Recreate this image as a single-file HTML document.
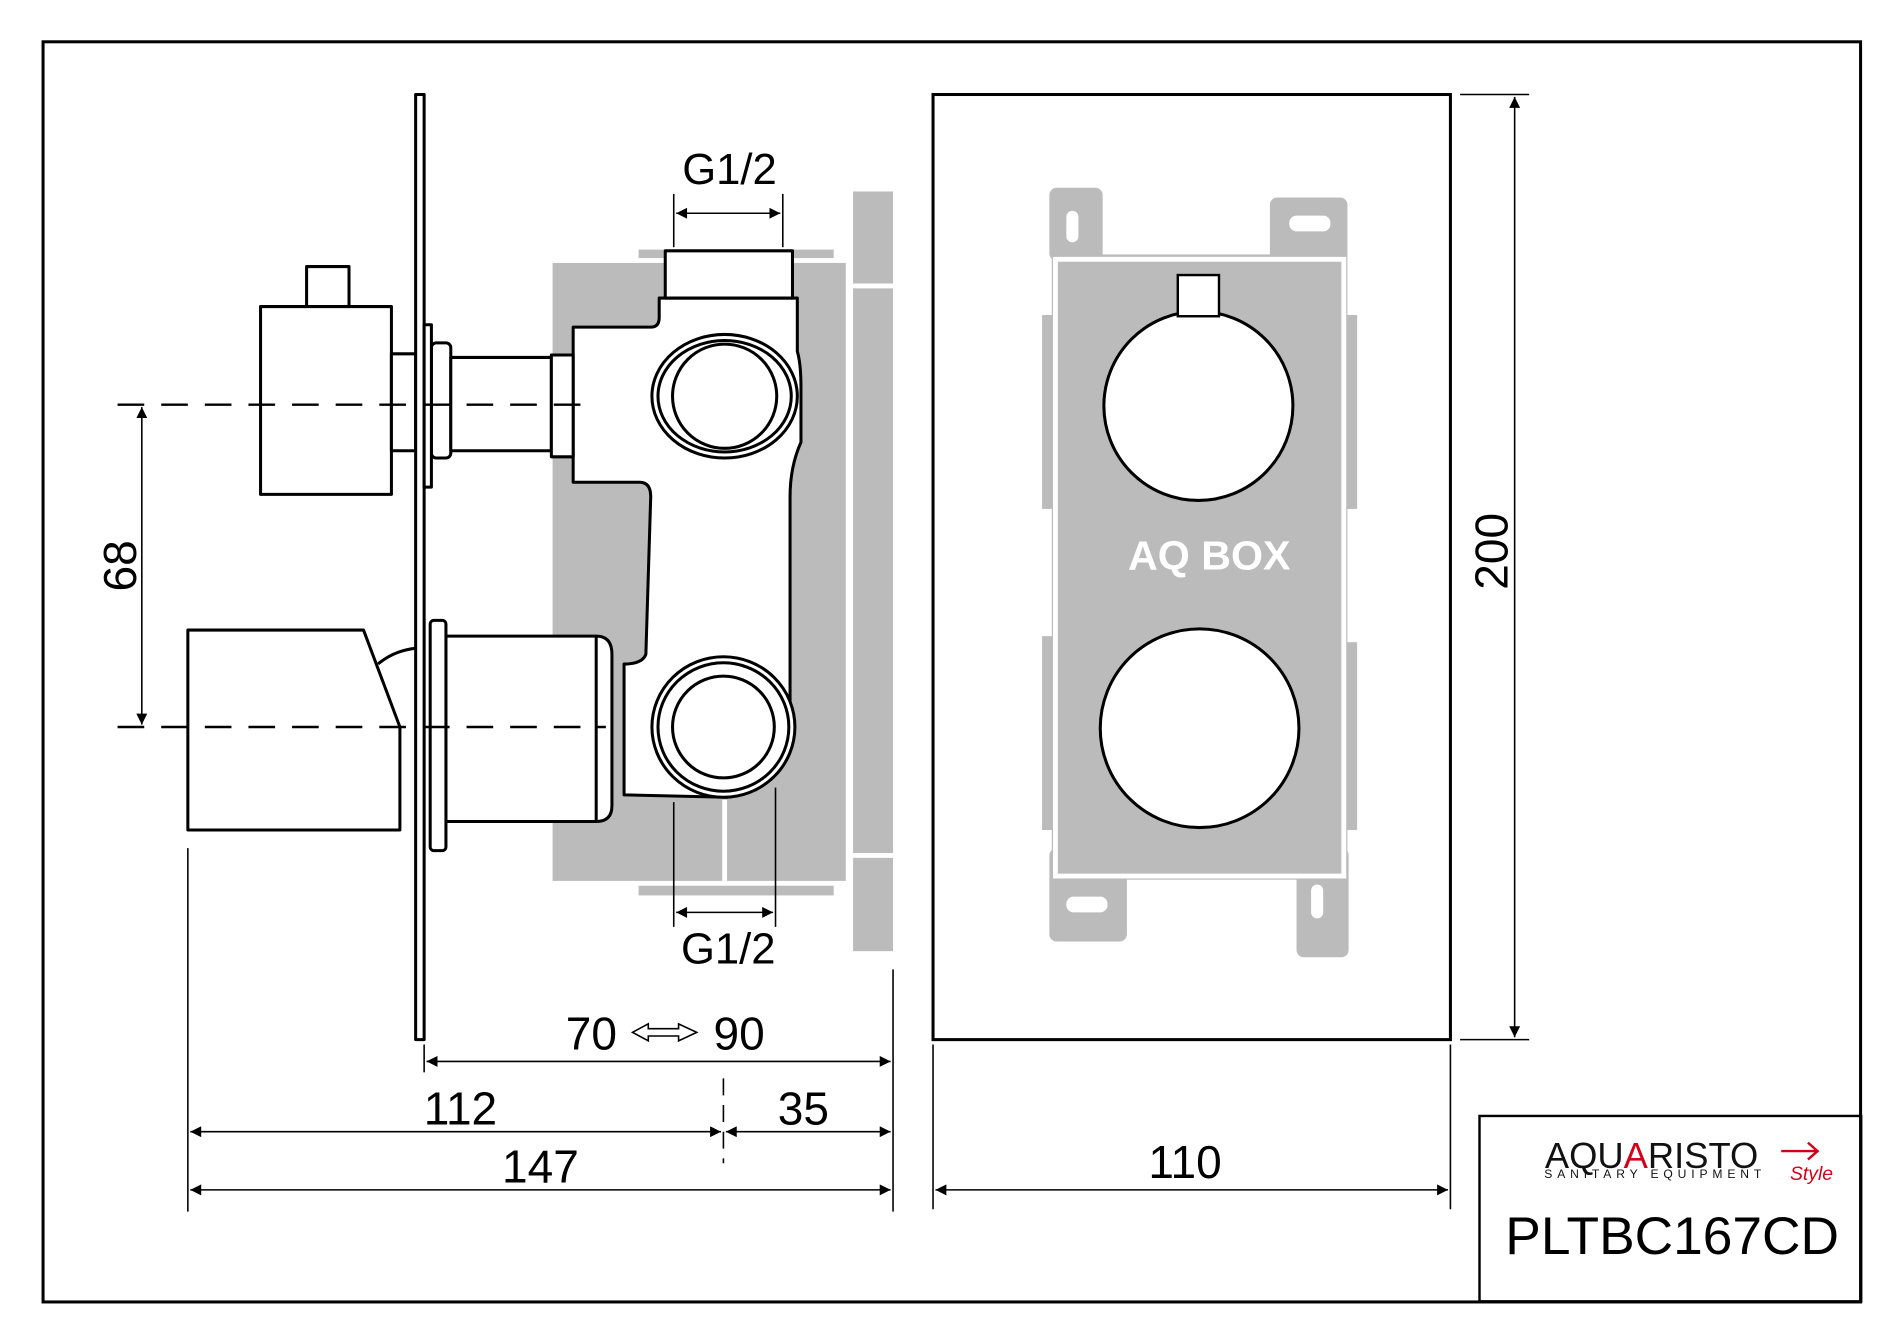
<!DOCTYPE html>
<html><head><meta charset="utf-8"><style>html,body{margin:0;padding:0;background:#fff}svg{display:block}</style></head>
<body>
<svg width="1900" height="1328" viewBox="0 0 1568 1096" xmlns="http://www.w3.org/2000/svg" font-family="Liberation Sans, sans-serif">
<defs>
<marker id="a" viewBox="0 0 10 10" refX="10" refY="5" markerWidth="20" markerHeight="9" markerUnits="userSpaceOnUse" orient="auto-start-reverse"><path d="M0,0 L10,5 L0,10 z" fill="#000"/></marker>
</defs>
<rect x="0" y="0" width="1568" height="1096" fill="#fff"/>
<rect x="35.5" y="34.5" width="1500" height="1040" fill="none" stroke="#000" stroke-width="2.5"/>
<rect x="1221" y="921" width="315" height="153" fill="none" stroke="#000" stroke-width="2"/>
<text x="1363" y="964" font-size="30" text-anchor="middle" fill="#111">AQU<tspan fill="#d0021b">A</tspan>RISTO</text>
<text x="1366" y="972" font-size="10" text-anchor="middle" fill="#111" letter-spacing="4">SANITARY EQUIPMENT</text>
<text x="1495" y="974" font-size="16" font-style="italic" fill="#d0021b" text-anchor="middle">Style</text>
<path d="M1470,950 h30 M1492,943 l8,7 l-8,7" stroke="#d0021b" stroke-width="2" fill="none"/>
<text x="1380" y="1035" font-size="44" text-anchor="middle">PLTBC167CD</text>

<rect x="770" y="78" width="427" height="780" fill="none" stroke="#000" stroke-width="2.5"/>
<g fill="#bbb">
<rect x="866" y="155" width="44" height="60" rx="6"/>
<rect x="1048" y="163" width="64" height="52" rx="6"/>
<rect x="868" y="210" width="244" height="516"/>
<rect x="866" y="700" width="64" height="77" rx="6"/>
<rect x="1070" y="700" width="43" height="90" rx="6"/>
<rect x="860" y="260" width="10" height="160"/><rect x="860" y="525" width="10" height="160"/>
<rect x="1110" y="260" width="10" height="160"/><rect x="1110" y="530" width="10" height="155"/>
</g>
<rect x="871" y="214" width="238" height="509" fill="none" stroke="#fff" stroke-width="4"/>
<rect x="880" y="174" width="10" height="26" rx="5" fill="#fff"/>
<rect x="1064" y="178" width="34" height="13" rx="6" fill="#fff"/>
<rect x="880" y="740" width="34" height="13" rx="6" fill="#fff"/>
<rect x="1082" y="730" width="10" height="28" rx="5" fill="#fff"/>
<circle cx="989" cy="335" r="78" fill="#fff" stroke="#000" stroke-width="2.5"/>
<rect x="972" y="227" width="34" height="34" fill="#fff" stroke="#000" stroke-width="2"/>
<circle cx="990" cy="601" r="82" fill="#fff" stroke="#000" stroke-width="2.5"/>
<text x="998" y="470" font-size="34" font-weight="bold" fill="#fff" text-anchor="middle">AQ BOX</text>

<g stroke="#000" stroke-width="1.3" fill="none">
<line x1="1205" y1="78" x2="1262" y2="78"/><line x1="1205" y1="858" x2="1262" y2="858"/>
<line x1="1250" y1="80" x2="1250" y2="856" marker-start="url(#a)" marker-end="url(#a)"/>
<line x1="770" y1="862" x2="770" y2="998"/><line x1="1197" y1="862" x2="1197" y2="998"/>
<line x1="772" y1="982" x2="1195" y2="982" marker-start="url(#a)" marker-end="url(#a)"/>
</g>
<text transform="translate(1244,455) rotate(-90)" font-size="38" text-anchor="middle">200</text>
<text x="978" y="972" font-size="38" text-anchor="middle">110</text>

<g fill="#bbb">
<rect x="456" y="217" width="242" height="510"/>
<rect x="527" y="206" width="161" height="7"/>
<rect x="527" y="731" width="161" height="8"/>
<rect x="704" y="158" width="33" height="627"/>
</g>
<g stroke="#fff" stroke-width="4">
<line x1="704" y1="236" x2="737" y2="236"/><line x1="704" y1="706" x2="737" y2="706"/>
<line x1="598" y1="660" x2="598" y2="727"/>
</g>

<g stroke="#000" stroke-width="2.5" fill="#fff" stroke-linejoin="round">
<path d="M473,270 L537,270 Q544,270 544,262 L544,246 L658,246 L658,290 Q661,300 661,320 L661,365 Q652,385 652,410 L652,600 Q650,650 600,658 L515,656 L515,548 Q530,548 533,540 L537,410 Q537,398 528,398 L473,398 Z"/>
<rect x="549" y="207" width="105" height="39"/>
<ellipse cx="598" cy="327" rx="60" ry="51"/>
<ellipse cx="598" cy="327" rx="55" ry="46"/>
<ellipse cx="598" cy="327" rx="43" ry="43"/>
<ellipse cx="597" cy="600" rx="59" ry="58"/>
<ellipse cx="597" cy="600" rx="54" ry="53"/>
<ellipse cx="597" cy="600" rx="42" ry="42"/>
<rect x="253" y="220" width="35" height="33"/>
<rect x="215" y="253" width="108" height="155"/>
<rect x="323" y="292" width="20" height="80"/>
<rect x="356" y="283" width="16" height="95" rx="4"/>
<rect x="372" y="295" width="83" height="77"/>
<rect x="455" y="293" width="18" height="84"/>
<path d="M368,525 L492,525 Q505,525 505,540 L505,665 Q505,678 492,678 L368,678 Z"/>
<line x1="492" y1="525" x2="492" y2="678"/>
<path d="M312,548 Q325,537 343,535" fill="none"/>
<path d="M155,520 L300,520 L330,600 L330,685 L155,685 Z"/>
<rect x="355" y="512" width="13" height="190" rx="3"/>
<rect x="343" y="78" width="7" height="780"/>
<rect x="350" y="268" width="6" height="134"/>
</g>

<g stroke="#000" stroke-width="2" stroke-dasharray="22,14" fill="none">
<line x1="97" y1="334" x2="480" y2="334"/>
<line x1="97" y1="600" x2="500" y2="600"/>
</g>
<g stroke="#000" stroke-width="1.3" fill="none">
<line x1="117" y1="336" x2="117" y2="598" marker-start="url(#a)" marker-end="url(#a)"/>
<line x1="556" y1="160" x2="556" y2="204"/><line x1="646" y1="160" x2="646" y2="204"/>
<line x1="558" y1="176" x2="644" y2="176" marker-start="url(#a)" marker-end="url(#a)"/>
<line x1="556" y1="662" x2="556" y2="765"/><line x1="640" y1="650" x2="640" y2="765"/>
<line x1="558" y1="753" x2="638" y2="753" marker-start="url(#a)" marker-end="url(#a)"/>
<line x1="350" y1="862" x2="350" y2="885"/>
<line x1="737" y1="800" x2="737" y2="1000"/>
<line x1="155" y1="700" x2="155" y2="1000"/>
<line x1="352" y1="876" x2="735" y2="876" marker-start="url(#a)" marker-end="url(#a)"/>
<line x1="157" y1="934" x2="595" y2="934" marker-start="url(#a)" marker-end="url(#a)"/>
<line x1="599" y1="934" x2="735" y2="934" marker-start="url(#a)" marker-end="url(#a)"/>
<line x1="597" y1="890" x2="597" y2="960" stroke-dasharray="14,8"/>
<line x1="157" y1="982" x2="735" y2="982" marker-start="url(#a)" marker-end="url(#a)"/>
<path d="M522,852 L535,845 L535,849 L560,849 L560,845 L575,852 L560,859 L560,855 L535,855 L535,859 Z"/>
</g>
<g font-size="38" text-anchor="middle">
<text transform="translate(112,467) rotate(-90)">68</text>
<text x="602" y="152" font-size="36">G1/2</text>
<text x="601" y="795" font-size="36">G1/2</text>
<text x="488" y="866">70</text>
<text x="610" y="866">90</text>
<text x="380" y="928">112</text>
<text x="663" y="928">35</text>
<text x="446" y="976">147</text>
</g>
</svg>
</body></html>
